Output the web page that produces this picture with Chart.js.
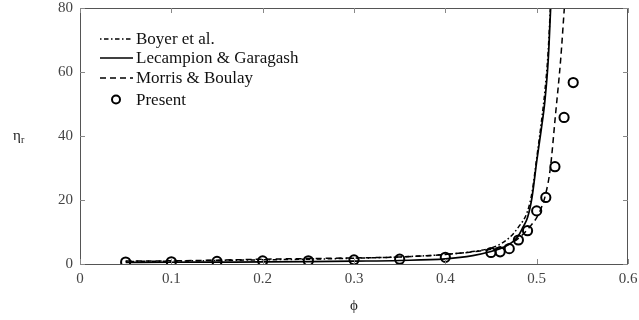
<!DOCTYPE html>
<html lang="en">
<head>
    <title>Relative viscosity</title>
    <script src="https://cdn.jsdelivr.net/npm/chart.js@4.4.0/dist/chart.umd.min.js"></script>
    <style>
    body {
        margin: 0;
        background: white;
    }
    .chart-container {
        width: 639px;
        height: 320px;
    }
    </style>
</head>
<body>
    <div class="chart-container">
        <canvas id="viscChart" width="639" height="320"></canvas>
    </div>

    <script>
        // Data
        const xTicks = [0, 0.1, 0.2, 0.3, 0.4, 0.5, 0.6];
        const yTicks = [0, 20, 40, 60, 80];

        const phiBoyer = [0.05, 0.1, 0.15, 0.2, 0.25, 0.3, 0.35, 0.4, 0.43, 0.45, 0.46, 0.47, 0.48, 0.49, 0.495, 0.5, 0.505, 0.509, 0.5125, 0.515];
        const etaBoyer = [0.8, 0.9, 1.1, 1.3, 1.5, 1.8, 2.2, 3.0, 3.9, 5.0, 6.2, 8.2, 11.5, 16.5, 22.5, 33, 44, 54, 66, 80];

        const phiLG = [0.05, 0.1, 0.15, 0.2, 0.25, 0.3, 0.35, 0.4, 0.43, 0.45, 0.46, 0.47, 0.475, 0.48, 0.485, 0.49, 0.495, 0.5, 0.505, 0.509, 0.5127, 0.5153];
        const etaLG = [0.5, 0.55, 0.6, 0.65, 0.75, 0.9, 1.1, 1.6, 2.6, 3.9, 4.8, 6.2, 7.2, 8.8, 11.5, 14.5, 21.0, 32.0, 42.0, 51.0, 64.0, 80.0];

        const phiMB = [0.05, 0.1, 0.15, 0.2, 0.25, 0.3, 0.35, 0.4, 0.45, 0.46, 0.47, 0.48, 0.4927, 0.5, 0.505, 0.51, 0.515, 0.5204, 0.5263, 0.5303];
        const etaMB = [0.9, 1.0, 1.2, 1.5, 1.7, 1.9, 2.2, 3.0, 4.6, 5.3, 6.3, 8.0, 11.7, 14.5, 17.5, 22.0, 30.0, 46.0, 64.0, 80.0];

        const phiPresent = [0.05, 0.1, 0.15, 0.2, 0.25, 0.3, 0.35, 0.4, 0.45, 0.46, 0.47, 0.48, 0.49, 0.5, 0.51, 0.52, 0.53, 0.54];
        const etaPresent = [0.6, 0.7, 0.8, 0.95, 1.0, 1.3, 1.5, 2.1, 3.6, 3.8, 4.8, 7.5, 10.4, 16.6, 20.8, 30.4, 45.8, 56.7];

        const serif = '"Liberation Serif", "DejaVu Serif", serif';

        function toPoints(xs, ys) {
            return xs.map((x, i) => ({ x: x, y: ys[i] }));
        }

        // frame, inward ticks, axis titles and legend
        const decorPlugin = {
            id: 'decor',
            afterDraw(chart) {
                const ctx = chart.ctx;
                const a = chart.chartArea;
                const xs = chart.scales.x;
                const ys = chart.scales.y;
                ctx.save();
                ctx.strokeStyle = '#555';
                ctx.lineWidth = 1;
                ctx.strokeRect(a.left + 0.5, a.top + 0.5, a.right - a.left - 1, a.bottom - a.top);

                ctx.strokeStyle = '#888';
                ctx.beginPath();
                xTicks.forEach(v => {
                    const px = Math.round(xs.getPixelForValue(v)) + 0.5;
                    ctx.moveTo(px, a.bottom); ctx.lineTo(px, a.bottom - 5);
                    ctx.moveTo(px, a.top); ctx.lineTo(px, a.top + 5);
                });
                yTicks.forEach(v => {
                    const py = Math.round(ys.getPixelForValue(v)) + 0.5;
                    ctx.moveTo(a.left, py); ctx.lineTo(a.left + 5, py);
                    ctx.moveTo(a.right, py); ctx.lineTo(a.right - 5, py);
                });
                ctx.stroke();

                // axis titles
                ctx.fillStyle = '#222';
                ctx.textBaseline = 'middle';
                ctx.textAlign = 'left';
                ctx.font = '15px ' + serif;
                ctx.fillText('η', 13, 136);
                ctx.font = '10px ' + serif;
                ctx.fillText('r', 21, 140);
                ctx.font = '15px ' + serif;
                ctx.textAlign = 'center';
                ctx.fillText('ϕ', (a.left + a.right) / 2, 306);

                // legend
                const rows = [39, 58, 78, 99.5];
                ctx.textAlign = 'left';
                ctx.font = '17px ' + serif;
                chart.data.datasets.forEach((ds, i) => {
                    const y = rows[i];
                    ctx.strokeStyle = '#000';
                    if (ds.showLine === false) {
                        ctx.lineWidth = 2;
                        ctx.setLineDash([]);
                        ctx.beginPath();
                        ctx.arc(116, y, 4, 0, Math.PI * 2);
                        ctx.stroke();
                    } else {
                        ctx.lineWidth = ds.borderWidth;
                        ctx.setLineDash(ds.borderDash || []);
                        ctx.beginPath();
                        ctx.moveTo(100, y);
                        ctx.lineTo(133, y);
                        ctx.stroke();
                    }
                    ctx.setLineDash([]);
                    ctx.fillStyle = '#111';
                    ctx.fillText(ds.label, 136, y + 1);
                });
                ctx.restore();
            }
        };

        const ctx = document.getElementById('viscChart').getContext('2d');
        const viscChart = new Chart(ctx, {
            type: 'line',
            data: {
                datasets: [{
                    label: 'Boyer et al.',
                    data: toPoints(phiBoyer, etaBoyer),
                    borderColor: '#000',
                    borderWidth: 1.5,
                    borderDash: [1.5, 2.5, 4.5, 2.5],
                    pointRadius: 0,
                    cubicInterpolationMode: 'monotone'
                }, {
                    label: 'Lecampion & Garagash',
                    data: toPoints(phiLG, etaLG),
                    borderColor: '#000',
                    borderWidth: 1.7,
                    pointRadius: 0,
                    cubicInterpolationMode: 'monotone'
                }, {
                    label: 'Morris & Boulay',
                    data: toPoints(phiMB, etaMB),
                    borderColor: '#000',
                    borderWidth: 1.5,
                    borderDash: [6, 4],
                    pointRadius: 0,
                    cubicInterpolationMode: 'monotone'
                }, {
                    label: 'Present',
                    data: toPoints(phiPresent, etaPresent),
                    showLine: false,
                    borderColor: '#000',
                    backgroundColor: 'rgba(0,0,0,0)',
                    pointRadius: 4.6,
                    pointBorderWidth: 2,
                    pointBorderColor: '#000',
                    pointBackgroundColor: 'rgba(0,0,0,0)'
                }]
            },
            options: {
                responsive: false,
                animation: false,
                layout: { padding: { top: 8, right: 11, left: 0, bottom: 0 } },
                plugins: {
                    legend: { display: false },
                    tooltip: { enabled: false }
                },
                scales: {
                    x: {
                        type: 'linear',
                        min: 0,
                        max: 0.6,
                        afterFit: s => {
                            s.height = 56;
                            s.paddingLeft = 0;
                            s.paddingRight = 0;
                        },
                        afterBuildTicks: s => { s.ticks = xTicks.map(v => ({ value: v })); },
                        grid: { display: false, drawTicks: false },
                        border: { display: false },
                        ticks: {
                            padding: 8,
                            color: '#444',
                            font: { family: serif, size: 15, lineHeight: 1 },
                            callback: v => String(+v.toFixed(1))
                        }
                    },
                    y: {
                        min: 0,
                        max: 80,
                        afterFit: s => {
                            s.width = 80;
                            s.paddingTop = 0;
                            s.paddingBottom = 0;
                        },
                        afterBuildTicks: s => { s.ticks = yTicks.map(v => ({ value: v })); },
                        grid: { display: false, drawTicks: false },
                        border: { display: false },
                        ticks: {
                            padding: 7,
                            color: '#444',
                            font: { family: serif, size: 15, lineHeight: 1 }
                        }
                    }
                }
            },
            plugins: [decorPlugin]
        });
    </script>
</body>
</html>
